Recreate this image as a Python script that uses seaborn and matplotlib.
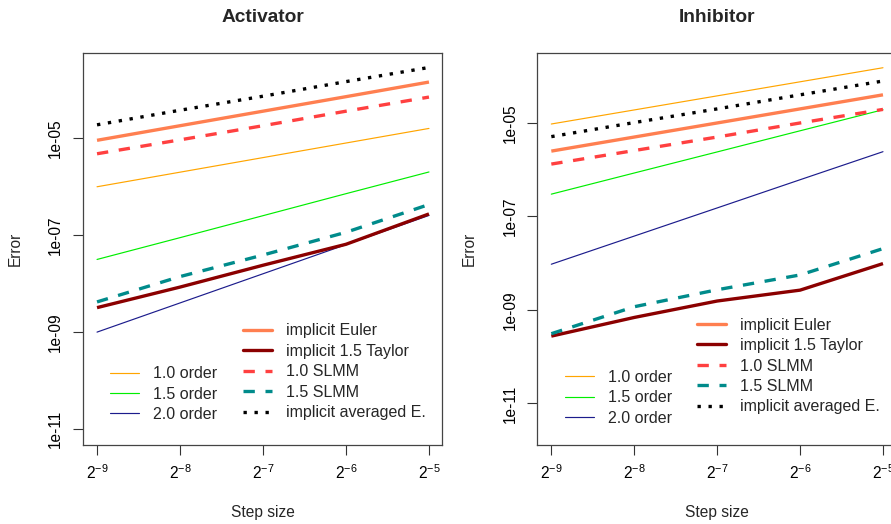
import numpy as np
import pandas as pd
import seaborn as sns
import matplotlib
matplotlib.use("Agg")
import matplotlib.pyplot as plt
from matplotlib.lines import Line2D

# ---------------- data ----------------
step_exp = [-9, -8, -7, -6, -5]
step_size = [2.0 ** e for e in step_exp]
x_tick_labels = [r"$2^{-9}$", r"$2^{-8}$", r"$2^{-7}$", r"$2^{-6}$", r"$2^{-5}$"]
y_ticks = [1e-5, 1e-7, 1e-9, 1e-11]
y_tick_labels = ["1e-05", "1e-07", "1e-09", "1e-11"]
panel_titles = ["Activator", "Inhibitor"]

# Activator errors
act_euler = [9.1e-6, 1.82e-5, 3.63e-5, 7.24e-5, 1.45e-4]
act_taylor = [3.2e-9, 8.5e-9, 2.4e-8, 6.5e-8, 2.75e-7]
act_slmm10 = [4.8e-6, 9.3e-6, 1.82e-5, 3.63e-5, 7.1e-5]
act_slmm15 = [4.2e-9, 1.4e-8, 3.9e-8, 1.15e-7, 4.3e-7]
act_avg = [1.9e-5, 3.8e-5, 7.4e-5, 1.48e-4, 2.9e-4]
act_ord10 = [1.0e-6, 2.0e-6, 4.0e-6, 8.0e-6, 1.6e-5]
act_ord15 = [3.16e-8, 8.9e-8, 2.53e-7, 7.2e-7, 2.02e-6]
act_ord20 = [1.0e-9, 4.0e-9, 1.6e-8, 6.4e-8, 2.56e-7]

# Inhibitor errors
inh_euler = [2.5e-6, 5.0e-6, 1.0e-5, 2.0e-5, 4.0e-5]
inh_taylor = [2.75e-10, 6.9e-10, 1.55e-9, 2.65e-9, 9.8e-9]
inh_slmm10 = [1.32e-6, 2.57e-6, 5.0e-6, 1.0e-5, 1.95e-5]
inh_slmm15 = [3.1e-10, 1.17e-9, 2.7e-9, 5.6e-9, 2.05e-8]
inh_avg = [5.1e-6, 1.02e-5, 2.0e-5, 4.0e-5, 7.9e-5]
inh_ord10 = [9.5e-6, 1.9e-5, 3.8e-5, 7.6e-5, 1.52e-4]
inh_ord15 = [3.0e-7, 8.5e-7, 2.4e-6, 6.8e-6, 1.92e-5]
inh_ord20 = [9.5e-9, 3.8e-8, 1.52e-7, 6.1e-7, 2.43e-6]

method_names = ["implicit Euler", "implicit 1.5 Taylor", "1.0 SLMM", "1.5 SLMM",
                "implicit averaged E."]
order_names = ["1.0 order", "1.5 order", "2.0 order"]

# ---------------- style ----------------
sns.set_theme(style="white")
plt.rcParams["font.family"] = ["Liberation Sans", "DejaVu Sans"]
plt.rcParams["mathtext.fontset"] = "custom"
plt.rcParams["mathtext.rm"] = "Liberation Sans"
plt.rcParams["mathtext.it"] = "Liberation Sans"
plt.rcParams["mathtext.default"] = "regular"

THICK = 2.4
THIN = 0.85
method_styles = [
    dict(color="#FF7F50", lw=THICK, ls="-"),
    dict(color="#8B0000", lw=THICK, ls="-"),
    dict(color="#FF4040", lw=THICK, ls=(0, (3.4, 3.2))),
    dict(color="#008B8B", lw=THICK, ls=(0, (3.4, 3.2))),
    dict(color="#000000", lw=THICK, ls=(0, (1, 2.3))),
]
order_styles = [
    dict(color="#FFA500", lw=THIN, ls="-"),
    dict(color="#00EE00", lw=THIN, ls="-"),
    dict(color="#1C1C8C", lw=THIN, ls="-"),
]

panels = [
    dict(methods=[act_euler, act_taylor, act_slmm10, act_slmm15, act_avg],
         orders=[act_ord10, act_ord15, act_ord20],
         ylim=(10 ** -11.33, 10 ** -3.239),
         pos=[83 / 891, 1 - 445 / 524, 359 / 891, 392 / 524],
         leg1=(0.4457, 0.1866), leg2=(0.0752, 0.130), ylab_x=-0.167),
    dict(methods=[inh_euler, inh_taylor, inh_slmm10, inh_slmm15, inh_avg],
         orders=[inh_ord10, inh_ord15, inh_ord20],
         ylim=(10 ** -11.89, 10 ** -3.503),
         pos=[537.3 / 891, 1 - 445 / 524, 358.7 / 891, 392 / 524],
         leg1=(0.4444, 0.2015), leg2=(0.0772, 0.1207), ylab_x=-0.168),
]

fig = plt.figure(figsize=(8.91, 5.24), dpi=100)
FS = 11.2
LFS = 11.5

for p, title in zip(panels, panel_titles):
    ax = fig.add_axes(p["pos"])
    for vals, st in zip(p["orders"], order_styles):
        df = pd.DataFrame({"step": step_size, "err": vals})
        sns.lineplot(data=df, x="step", y="err", ax=ax, color=st["color"],
                     linewidth=st["lw"], linestyle=st["ls"], legend=False)
    for vals, st in zip(p["methods"], method_styles):
        df = pd.DataFrame({"step": step_size, "err": vals})
        sns.lineplot(data=df, x="step", y="err", ax=ax, color=st["color"],
                     linewidth=st["lw"], linestyle=st["ls"], legend=False,
                     dash_capstyle="butt", solid_capstyle="butt")
    ax.set_xscale("log", base=2)
    ax.set_yscale("log")
    ax.set_xlim(2 ** -9.169, 2 ** -4.843)
    ax.set_ylim(*p["ylim"])
    ax.set_xticks(step_size)
    ax.set_xticklabels(x_tick_labels)
    ax.set_yticks(y_ticks)
    ax.set_yticklabels(y_tick_labels)
    ax.minorticks_off()
    ax.tick_params(axis="both", which="major", direction="out", length=7.2,
                   width=0.8, color="#333333", labelsize=FS, labelcolor="black",
                   bottom=True, left=True, pad=6)
    ax.tick_params(axis="y", labelrotation=90, pad=7)
    for lab in ax.get_yticklabels():
        lab.set_va("center")
    for sp in ax.spines.values():
        sp.set_color("#444444")
        sp.set_linewidth(0.9)
    ax.set_xlabel("Step size", fontsize=FS)
    ax.set_ylabel("Error", fontsize=FS)
    ax.xaxis.set_label_coords(0.5, -0.153)
    ax.yaxis.set_label_coords(p["ylab_x"], 0.5)
    ax.set_title(title, fontsize=13.8, fontweight="bold", pad=22)

    h1 = [Line2D([], [], color=s["color"], lw=s["lw"], ls=s["ls"],
                 dash_capstyle="butt") for s in method_styles]
    h2 = [Line2D([], [], color=s["color"], lw=s["lw"], ls=s["ls"]) for s in order_styles]
    leg1 = ax.legend(h1, method_names, loc="center left", bbox_to_anchor=p["leg1"],
                     frameon=False, fontsize=LFS, handlelength=1.82,
                     handletextpad=0.88, labelspacing=0.34, borderpad=0,
                     borderaxespad=0)
    ax.add_artist(leg1)
    ax.legend(h2, order_names, loc="center left", bbox_to_anchor=p["leg2"],
              frameon=False, fontsize=LFS, handlelength=1.82,
              handletextpad=0.88, labelspacing=0.34, borderpad=0,
              borderaxespad=0)

fig.savefig("out.png", dpi=100)
